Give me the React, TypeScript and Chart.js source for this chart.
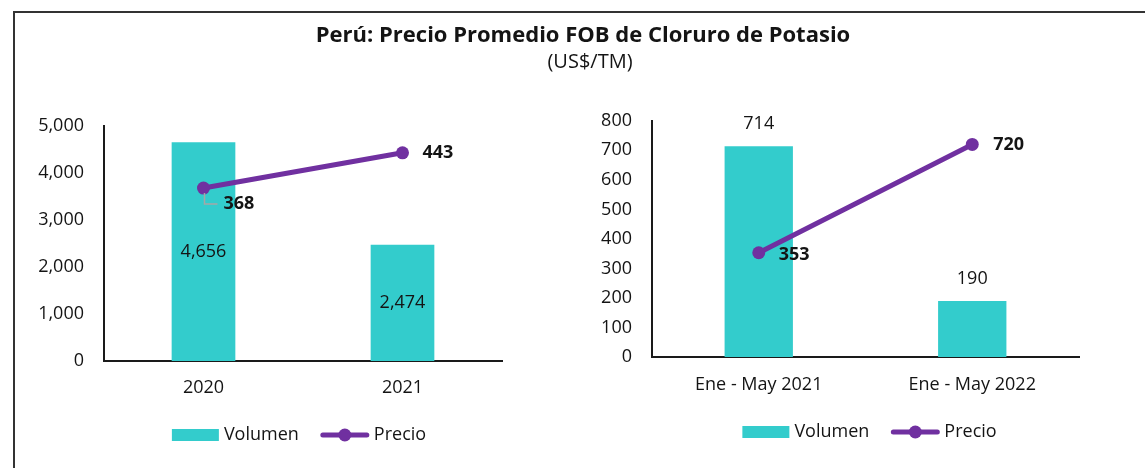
import React, { useEffect, useRef } from 'react';
import { Chart, registerables } from 'chart.js';

Chart.register(...registerables);

const TITLE = 'Perú: Precio Promedio FOB de Cloruro de Potasio';
const SUBTITLE = '(US$/TM)';
const seriesNames = ['Volumen', 'Precio'];

const leftCategories = ['2020', '2021'];
const leftVolumen = [4656, 2474];
const leftPrecio = [368, 443];
const leftTicks = [0, 1000, 2000, 3000, 4000, 5000];

const rightCategories = ['Ene - May 2021', 'Ene - May 2022'];
const rightVolumen = [714, 190];
const rightPrecio = [353, 720];
const rightTicks = [0, 100, 200, 300, 400, 500, 600, 700, 800];

const TEAL = '#33CCCC';
const PURPLE = '#7030A0';
const TEXT = '#141414';
const FONT = "'Open Sans', sans-serif";

const fmt = (v: number) => v.toLocaleString('en-US');

const labelsPlugin = {
  id: 'valueLabels',
  afterDatasetsDraw(chart: any, _args: any, opts: any) {
    const ctx = chart.ctx;
    ctx.save();
    ctx.fillStyle = TEXT;
    ctx.textBaseline = 'middle';
    const barMeta = chart.getDatasetMeta(0);
    ctx.font = `18px ${FONT}`;
    ctx.textAlign = 'center';
    barMeta.data.forEach((el: any, i: number) => {
      const v = chart.data.datasets[0].data[i];
      const y = opts.barMode === 'center' ? (el.y + el.base) / 2 : el.y - opts.barOffset;
      ctx.fillText(fmt(v), el.x, y);
    });
    const lineMeta = chart.getDatasetMeta(1);
    ctx.font = `bold 18px ${FONT}`;
    ctx.textAlign = 'left';
    lineMeta.data.forEach((el: any, i: number) => {
      const v = chart.data.datasets[1].data[i];
      const off = opts.lineOffsets[i];
      if (off.leader) {
        ctx.save();
        ctx.strokeStyle = '#A6A6A6';
        ctx.lineWidth = 1.5;
        ctx.beginPath();
        ctx.moveTo(el.x + 1, el.y + 5);
        ctx.lineTo(el.x + 1, el.y + off.dy);
        ctx.lineTo(el.x + off.dx - 6, el.y + off.dy);
        ctx.stroke();
        ctx.restore();
      }
      ctx.fillText(fmt(v), el.x + off.dx, el.y + off.dy);
    });
    ctx.restore();
  },
};

const legendPlugin = {
  id: 'customLegend',
  afterDraw(chart: any, _args: any, opts: any) {
    const ctx = chart.ctx;
    ctx.save();
    ctx.font = `18px ${FONT}`;
    const wV = ctx.measureText(seriesNames[0]).width;
    const wP = ctx.measureText(seriesNames[1]).width;
    const sw = 47, gap1 = 5, gap2 = 22, lw = 48, gap3 = 5;
    const total = sw + gap1 + wV + gap2 + lw + gap3 + wP;
    let x = opts.cx - total / 2;
    const cy = opts.cy;
    ctx.fillStyle = TEAL;
    ctx.fillRect(x, cy - 6, sw, 12);
    x += sw + gap1;
    ctx.fillStyle = TEXT;
    ctx.textAlign = 'left';
    ctx.textBaseline = 'middle';
    ctx.fillText(seriesNames[0], x, cy);
    x += wV + gap2;
    ctx.strokeStyle = PURPLE;
    ctx.lineWidth = 5;
    ctx.lineCap = 'round';
    ctx.beginPath();
    ctx.moveTo(x + 2, cy);
    ctx.lineTo(x + lw - 2, cy);
    ctx.stroke();
    ctx.fillStyle = PURPLE;
    ctx.beginPath();
    ctx.arc(x + lw / 2, cy, 6.5, 0, Math.PI * 2);
    ctx.fill();
    x += lw + gap3;
    ctx.fillStyle = TEXT;
    ctx.fillText(seriesNames[1], x, cy);
    ctx.restore();
  },
};

type PanelProps = {
  categories: string[];
  volumen: number[];
  precio: number[];
  ticks: number[];
  secondary: boolean;
  secondaryMax: number;
  yWidth: number;
  pad: { top: number; right: number; bottom: number };
  xPadding: number;
  barMode: string;
  barOffset: number;
  lineOffsets: any[];
  legend: { cx: number; cy: number };
  width: number;
  height: number;
  left: number;
  top: number;
};

function Panel(p: PanelProps) {
  const ref = useRef<HTMLCanvasElement | null>(null);
  useEffect(() => {
    const tickMax = p.ticks[p.ticks.length - 1];
    const step = p.ticks[1] - p.ticks[0];
    const chart = new Chart(ref.current as HTMLCanvasElement, {
      type: 'bar',
      data: {
        labels: p.categories,
        datasets: [
          {
            type: 'bar',
            label: seriesNames[0],
            data: p.volumen,
            backgroundColor: TEAL,
            borderWidth: 0,
            categoryPercentage: 1,
            barPercentage: 0.32,
            yAxisID: 'y',
            order: 2,
          },
          {
            type: 'line',
            label: seriesNames[1],
            data: p.precio,
            borderColor: PURPLE,
            backgroundColor: PURPLE,
            borderWidth: 5,
            pointRadius: 6.5,
            pointBorderWidth: 0,
            pointBackgroundColor: PURPLE,
            borderCapStyle: 'round',
            yAxisID: p.secondary ? 'y1' : 'y',
            order: 1,
          } as any,
        ],
      },
      options: {
        responsive: false,
        animation: false,
        events: [],
        layout: { padding: { left: 0, top: p.pad.top, right: p.pad.right, bottom: p.pad.bottom } },
        plugins: {
          legend: { display: false },
          tooltip: { enabled: false },
          title: { display: false },
          valueLabels: { barMode: p.barMode, barOffset: p.barOffset, lineOffsets: p.lineOffsets },
          customLegend: p.legend,
        } as any,
        scales: {
          x: {
            offset: true,
            grid: { display: false, drawTicks: false },
            border: { display: true, color: '#1a1a1a', width: 2 },
            ticks: { color: TEXT, font: { family: FONT, size: 18 }, padding: p.xPadding, maxRotation: 0, autoSkip: false },
            afterFit: (s: any) => { s.height = 50; },
          },
          y: {
            min: 0,
            max: tickMax,
            grid: { display: false, drawTicks: false },
            border: { display: true, color: '#1a1a1a', width: 2 },
            ticks: {
              stepSize: step,
              color: TEXT,
              font: { family: FONT, size: 18 },
              padding: 20,
              callback: (v: any) => fmt(Number(v)),
            },
            afterFit: (s: any) => { s.width = p.yWidth; },
          },
          y1: {
            display: false,
            min: 0,
            max: p.secondaryMax,
            position: 'right',
            grid: { display: false },
          },
        },
      } as any,
      plugins: [labelsPlugin, legendPlugin],
    });
    return () => chart.destroy();
  }, []);
  return (
    <canvas
      ref={ref}
      width={p.width}
      height={p.height}
      style={{ position: 'absolute', left: p.left, top: p.top, width: p.width, height: p.height }}
    />
  );
}

export default function App() {
  return (
    <div
      style={{
        position: 'fixed',
        left: 0,
        top: 0,
        width: 1145,
        height: 468,
        background: '#fff',
        overflow: 'hidden',
        fontFamily: FONT,
      }}
    >
      <Panel
        categories={leftCategories}
        volumen={leftVolumen}
        precio={leftPrecio}
        ticks={leftTicks}
        secondary={true}
        secondaryMax={500}
        yWidth={88}
        pad={{ top: 36, right: 54, bottom: 57 }}
        xPadding={16}
        barMode="center"
        barOffset={0}
        lineOffsets={[{ dx: 20, dy: 16, leader: true }, { dx: 20, dy: 0 }]}
        legend={{ cx: 283, cy: 345 }}
        width={540}
        height={378}
        left={16}
        top={90}
      />
      <Panel
        categories={rightCategories}
        volumen={rightVolumen}
        precio={rightPrecio}
        ticks={rightTicks}
        secondary={false}
        secondaryMax={800}
        yWidth={92}
        pad={{ top: 22, right: 66, bottom: 61 }}
        xPadding={17}
        barMode="above"
        barOffset={22}
        lineOffsets={[{ dx: 20, dy: 2 }, { dx: 21, dy: 0 }]}
        legend={{ cx: 309.5, cy: 342 }}
        width={585}
        height={378}
        left={560}
        top={90}
      />
      <div
        style={{
          position: 'absolute',
          left: 13,
          top: 11,
          width: 1160,
          height: 480,
          border: '2px solid #333',
          boxSizing: 'border-box',
          pointerEvents: 'none',
        }}
      />
      <div
        style={{
          position: 'absolute',
          left: 0,
          top: 18,
          width: 1166,
          textAlign: 'center',
          fontWeight: 700,
          fontSize: 22,
          lineHeight: '30px',
          color: TEXT,
        }}
      >
        {TITLE}
      </div>
      <div
        style={{
          position: 'absolute',
          left: 0,
          top: 47,
          width: 1180,
          textAlign: 'center',
          fontSize: 20,
          lineHeight: '28px',
          color: TEXT,
        }}
      >
        {SUBTITLE}
      </div>
    </div>
  );
}
